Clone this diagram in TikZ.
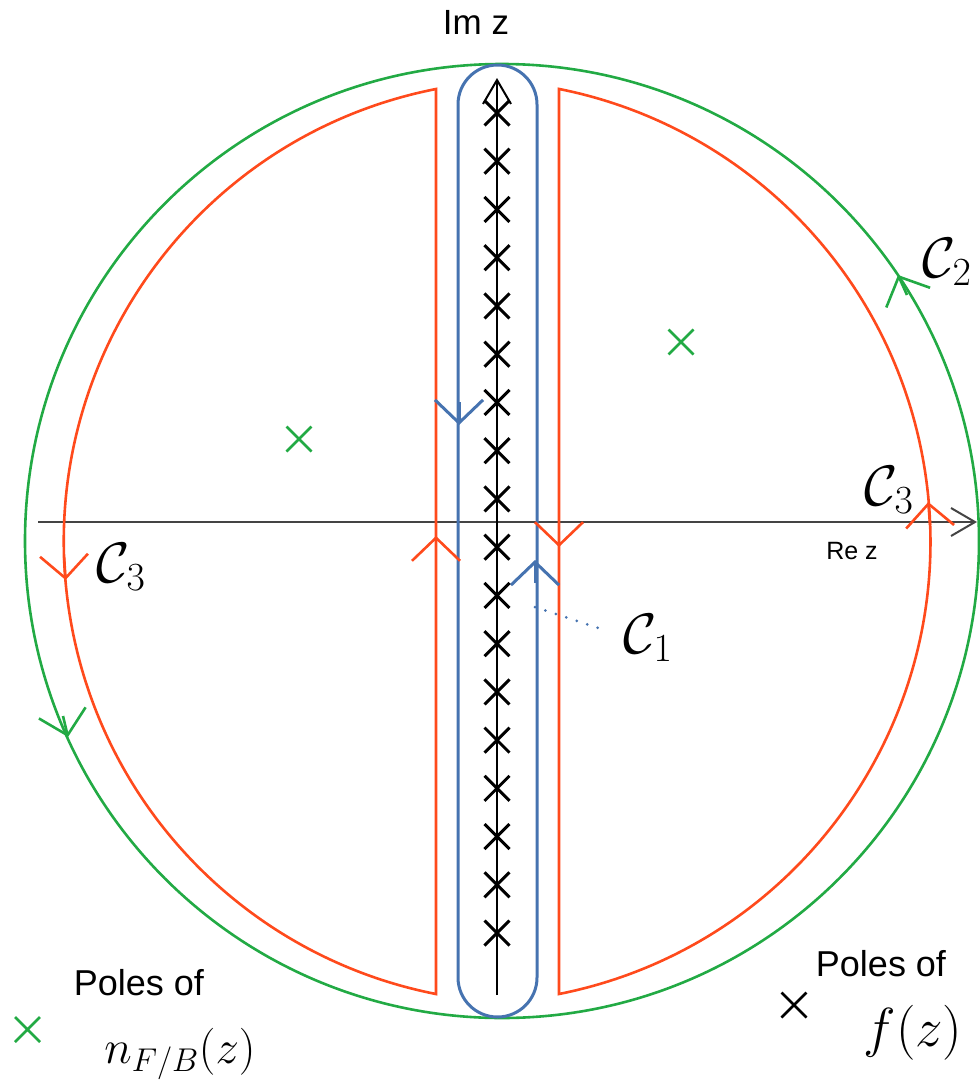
\RequirePackage{fix-cm}
\documentclass[tikz,border=0pt]{standalone}
\usepackage{fontspec}
\newfontfamily\labelsans{Liberation Sans}
\usetikzlibrary{arrows.meta}
\definecolor{CGreen}{HTML}{22AA44}
\definecolor{CRed}{HTML}{FF4A1C}
\definecolor{CBlue}{HTML}{4673B0}
\definecolor{CAxis}{HTML}{444444}
\tikzset{green path/.style={draw=CGreen,line width=2.6pt}, red path/.style={draw=CRed,line width=2.6pt}, blue path/.style={draw=CBlue,line width=3pt}, axis/.style={line width=2pt,-{Straight Barb[length=24pt,width=28pt]}}, vtip/.style={-{Straight Barb[length=23pt,width=48pt]}}, pole/.style={line width=3pt}, polemark/.pic={\draw (-12.5,-12.5) -- (12.5,12.5) (-12.5,12.5) -- (12.5,-12.5);}, contour label/.style={font=\fontsize{57}{62}\selectfont,inner sep=0pt}, sans label/.style={font=\labelsans\fontsize{36}{40}\selectfont,inner sep=0pt}}

\begin{document}
\begin{tikzpicture}[x=1pt,y=-1pt]
\useasboundingbox (0,0) rectangle (980,1082);
% axes
\draw[axis,draw=CAxis] (38,522) -- (977,522);
\draw[axis] (497,995) -- (497,78);
% contours
\draw[green path] (502,541) circle[radius=477];
\draw[blue path,rounded corners=39.5pt] (458,65) rectangle (537,1017);
\draw[red path] (436,994) -- (436,89) arc[start angle=258.87,end angle=101.13,radius=461.2] -- cycle;
\draw[red path] (559,89) -- (559,994) arc[start angle=78.75,end angle=-78.75,radius=461.4] -- cycle;
% direction marks
\draw[blue path,vtip] (459,402) -- (459,425);
\draw[blue path,vtip] (535,583) -- (535,560);
\foreach \tx/\ty/\hx/\hy in {436/560/436/536,559/524/559/547,930/525/928.3/502,64.1/557/65.6/580}{\draw[red path,vtip] (\tx,\ty) -- (\hx,\hy);}
\foreach \tx/\ty/\hx/\hy in {907/295/898/275,63/716/68/737}{\draw[green path,vtip] (\tx,\ty) -- (\hx,\hy);}
% poles
\foreach \k in {0,...,17}{\pic[pole] at (497,{113+48.24*\k}) {polemark};}
\foreach \px/\py in {681/342,299/439,27.5/1029.5}{\pic[pole,CGreen,line width=2.6pt] at (\px,\py) {polemark};}
\pic[pole,line width=2.6pt] at (794,1005) {polemark};
% labels
\node[sans label,font=\labelsans\fontsize{35}{40}\selectfont] (imlabel) at (476,22) {Im z};
\node[sans label,font=\labelsans\fontsize{25}{30}\selectfont] (relabel) at (852,551) {Re z};
\node[contour label] (c2) at (947,262) {$\mathcal{C}_2$};
\node[contour label] (c3r) at (889,490) {$\mathcal{C}_3$};
\node[contour label] (c3l) at (121,567) {$\mathcal{C}_3$};
\node[contour label] (c1) at (648,638) {$\mathcal{C}_1$};
\coordinate (c1tail) at (535,607);
\draw[CBlue,line width=3pt,dash pattern=on 0pt off 11pt,line cap=round] (c1tail) -- ([shift={(-16pt,7pt)}]c1.west);
% legend
\node[sans label] (legntext) at (139,983) {Poles of};
\node[contour label,font=\fontsize{47}{52}\selectfont] (legn) at (180,1054) {$n_{F/B}(z)$};
\node[sans label] (legftext) at (881,964) {Poles of};
\node[contour label,font=\fontsize{55}{60}\selectfont] (legf) at (913,1033) {$f(z)$};
\end{tikzpicture}
\end{document}
